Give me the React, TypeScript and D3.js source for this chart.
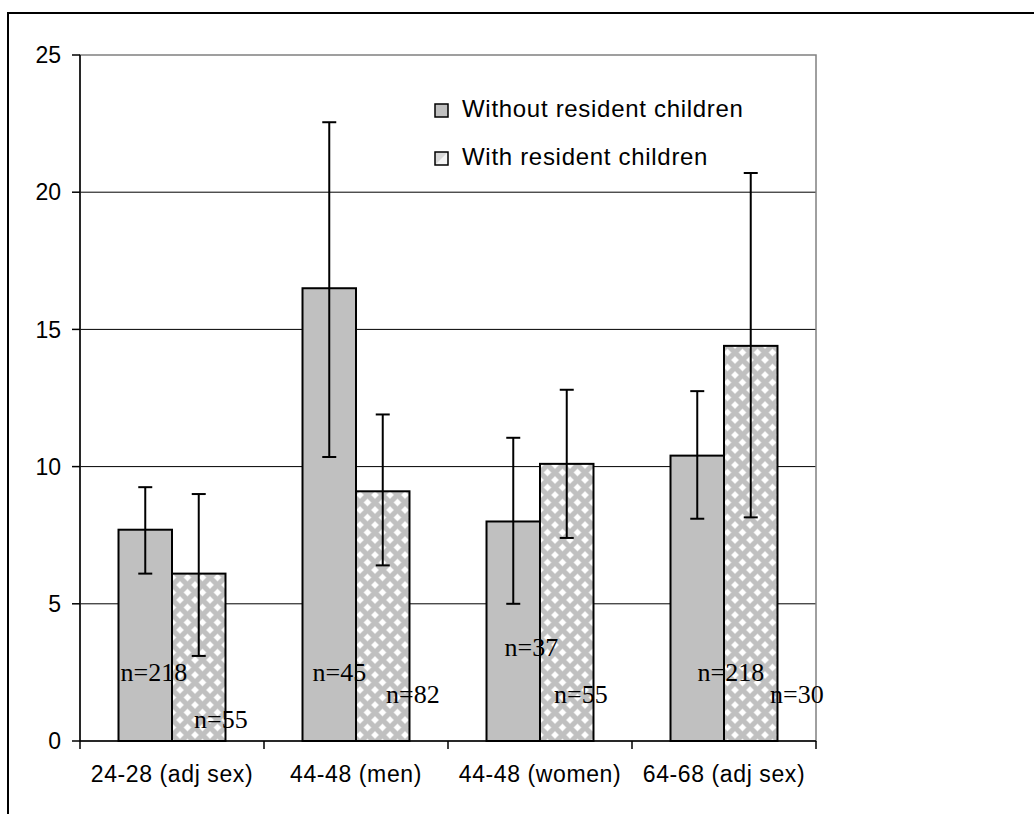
import React from "react";
import * as d3 from "d3";

// chart values
const categories = ["24-28 (adj sex)", "44-48 (men)", "44-48 (women)", "64-68 (adj sex)"];
const seriesNames = ["Without resident children", "With resident children"];

const withoutValues = [7.7, 16.5, 8.0, 10.4];
const withoutLow = [6.1, 10.35, 5.0, 8.1];
const withoutHigh = [9.25, 22.55, 11.05, 12.75];
const withoutN = [218, 45, 37, 218];

const withValues = [6.1, 9.1, 10.1, 14.4];
const withLow = [3.1, 6.4, 7.4, 8.15];
const withHigh = [9.0, 11.9, 12.8, 20.7];
const withN = [55, 82, 55, 30];

const yTicks = [0, 5, 10, 15, 20, 25];

// where the hand-placed "n=" labels sit: [px from bar left, px above x axis]
const withoutLabelNudge = [[2, 60], [10, 60], [18, 85], [27, 60]];
const withLabelNudge = [[22, 13], [30, 38], [14, 38], [46, 38]];

const W = 1034;
const H = 814;
const left = 80;
const right = 816;
const top = 55;
const bottom = 741;
const grey = "#C0C0C0";
const sans = "'Liberation Sans', Arial, sans-serif";
const serif = "'Liberation Serif', 'Times New Roman', serif";

const diamond = (cx: number, cy: number, r: number) =>
  `M${cx},${cy - r}L${cx + r},${cy}L${cx},${cy + r}L${cx - r},${cy}Z`;

export default function App() {
  const x = d3.scaleBand<string>().domain(categories).range([left, right]);
  const inner = d3
    .scaleBand<string>()
    .domain(seriesNames)
    .range([0, x.bandwidth()])
    .paddingOuter(0.72);
  const y = d3.scaleLinear().domain([0, 25]).range([bottom, top]);

  const series = [
    { name: seriesNames[0], values: withoutValues, low: withoutLow, high: withoutHigh, n: withoutN, nudge: withoutLabelNudge, fill: grey },
    { name: seriesNames[1], values: withValues, low: withLow, high: withHigh, n: withN, nudge: withLabelNudge, fill: "url(#checks)" },
  ];
  const bw = inner.bandwidth();
  const centres = [[0, 0], [15, 0], [0, 15], [15, 15], [7.5, 7.5]];

  return (
    <div style={{ position: "absolute", left: 0, top: 0 }}>
      <svg width={W} height={H} style={{ display: "block", background: "#fff" }}>
        <defs>
          <pattern id="checks" patternUnits="userSpaceOnUse" width={15} height={15}>
            <rect width={15} height={15} fill={grey} />
            {centres.map(([cx, cy], i) => (
              <path key={"a" + i} d={diamond(cx, cy, 4.3)} fill="#dcdcdc" />
            ))}
            {centres.map(([cx, cy], i) => (
              <path key={"b" + i} d={diamond(cx, cy, 3.4)} fill="#fff" />
            ))}
          </pattern>
          <pattern id="legendChecks" patternUnits="userSpaceOnUse" width={13} height={13}>
            <rect width={13} height={13} fill="#d8d8d8" />
            <path d="M0,13L13,0L13,13Z" fill="#f4f4f4" />
          </pattern>
        </defs>

        {/* outer chart border */}
        <rect x={8} y={13} width={W + 20} height={H + 20} fill="none" stroke="#000" strokeWidth={2} />

        {/* gridlines */}
        {yTicks.filter((t) => t > 0 && t < 25).map((t) => (
          <line key={t} x1={left} x2={right} y1={y(t)} y2={y(t)} stroke="#000" strokeWidth={1} />
        ))}
        {/* plot area border */}
        <rect x={left} y={top} width={right - left} height={bottom - top} fill="none" stroke="#808080" strokeWidth={1.5} />

        {/* bars */}
        {series.map((s) =>
          categories.map((c, i) => {
            const bx = (x(c) as number) + (inner(s.name) as number);
            return (
              <rect
                key={s.name + c}
                x={bx}
                y={y(s.values[i])}
                width={bw}
                height={bottom - y(s.values[i])}
                fill={s.fill}
                stroke="#000"
                strokeWidth={2}
              />
            );
          })
        )}

        {/* error bars */}
        {series.map((s) =>
          categories.map((c, i) => {
            const cx = (x(c) as number) + (inner(s.name) as number) + bw / 2;
            return (
              <g key={"e" + s.name + c} stroke="#000" strokeWidth={2}>
                <line x1={cx} x2={cx} y1={y(s.low[i])} y2={y(s.high[i])} />
                <line x1={cx - 7} x2={cx + 7} y1={y(s.low[i])} y2={y(s.low[i])} />
                <line x1={cx - 7} x2={cx + 7} y1={y(s.high[i])} y2={y(s.high[i])} />
              </g>
            );
          })
        )}

        {/* n labels */}
        {series.map((s) =>
          categories.map((c, i) => {
            const bx = (x(c) as number) + (inner(s.name) as number);
            return (
              <text
                key={"n" + s.name + c}
                x={bx + s.nudge[i][0]}
                y={bottom - s.nudge[i][1]}
                fontFamily={serif}
                fontSize={26}
                fill="#000"
              >
                {"n=" + s.n[i]}
              </text>
            );
          })
        )}

        {/* y axis */}
        <line x1={left} x2={left} y1={top} y2={bottom} stroke="#000" strokeWidth={1.5} />
        {yTicks.map((t) => (
          <g key={"yt" + t}>
            <line x1={left - 8} x2={left} y1={y(t)} y2={y(t)} stroke="#000" strokeWidth={1.5} />
            <text x={left - 19} y={y(t)} dy="0.36em" textAnchor="end" fontFamily={sans} fontSize={23} fill="#000">
              {t}
            </text>
          </g>
        ))}

        {/* x axis */}
        <line x1={left} x2={right} y1={bottom} y2={bottom} stroke="#000" strokeWidth={1.5} />
        {[...categories.map((c) => x(c) as number), right].map((tx, i) => (
          <line key={"xt" + i} x1={tx} x2={tx} y1={bottom} y2={bottom + 8} stroke="#000" strokeWidth={1.5} />
        ))}
        {categories.map((c) => (
          <text
            key={"xl" + c}
            x={(x(c) as number) + x.bandwidth() / 2}
            y={782}
            textAnchor="middle"
            fontFamily={sans}
            fontSize={23}
            letterSpacing={0.6}
            fill="#000"
          >
            {c}
          </text>
        ))}

        {/* legend */}
        {seriesNames.map((name, i) => (
          <g key={"lg" + name} transform={`translate(435, ${104 + i * 48})`}>
            <rect x={0} y={0} width={13} height={13} fill={i === 0 ? grey : "url(#legendChecks)"} stroke="#000" strokeWidth={1.5} />
            <text x={27} y={13} fontFamily={sans} fontSize={24} letterSpacing={0.7} fill="#000">
              {name}
            </text>
          </g>
        ))}
      </svg>
    </div>
  );
}
